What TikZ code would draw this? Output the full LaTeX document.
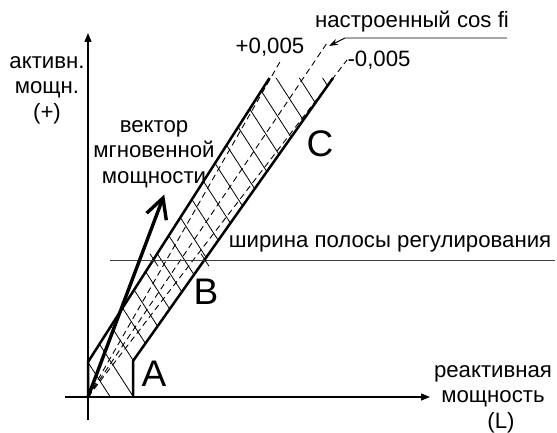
\documentclass[tikz,border=0pt]{standalone}
\usepackage{fontspec}
\setmainfont{Liberation Sans}
\usetikzlibrary{arrows.meta,calc}
\begin{document}
\begin{tikzpicture}[x=1pt,y=-1pt,
  axisline/.style={line width=1.3pt,-{Triangle[length=9pt,width=7pt]}},
  bandline/.style={line width=2.5pt,line join=round},
  cosline/.style={line width=0.9pt,dash pattern=on 6pt off 4pt},
  hatchline/.style={line width=0.8pt},
  vecline/.style={line width=3.4pt,line join=miter,line cap=butt},
  lbl/.style={font=\fontsize{22.2}{25.5}\selectfont,align=center,inner sep=0pt},
  big/.style={font=\fontsize{37}{40}\selectfont,inner sep=0pt}]
\useasboundingbox (0,0) rectangle (557,433);
% key points
\coordinate (O) at (88,397);
\coordinate (L1) at (88,362);
\coordinate (LT) at (269.5,78);
\coordinate (R0) at (133,397);
\coordinate (R1) at (133,361);
\coordinate (RT) at (333,78);
\coordinate (P) at (281,60);
\coordinate (M) at (327,43);
\coordinate (N) at (347,60);
\coordinate (V) at (163,198);
\coordinate (VB1) at (146.6,213.2);
\coordinate (VB2) at (166.3,220.2);
\coordinate (XL) at (65,397);
\coordinate (XR) at (430,397);
\coordinate (YB) at (88,420);
\coordinate (YT) at (88,33);
\coordinate (HL) at (110,260);
\coordinate (HR) at (555,260);
\coordinate (BL) at (154,260);
\coordinate (BR) at (205,260);
\coordinate (U1) at (507,38);
\coordinate (U2) at (345,38);
\coordinate (U3) at (329,46);
% hatching
\begin{scope}
  \clip (O) -- (L1) -- (LT) -- (RT) -- (R1) -- (R0) -- cycle;
  \foreach \c in {226,190,...,-450}
    \draw[hatchline] (0,\c) -- (400,620+\c);
\end{scope}
% axes
\draw[axisline] (XL) -- (XR);
\draw[axisline] (YB) -- (YT);
% cos fi lines
\draw[cosline] (O) -- (P);
\draw[cosline] (O) -- (M);
\draw[cosline] (O) -- (N);
% band boundaries
\draw[bandline] (O) -- (L1) -- (LT);
\draw[bandline] (R0) -- (R1) -- (RT);
% band width line
\draw[line width=0.9pt,black!75] (HL) -- (HR);
\draw[hatchline] ($(BL)+(-4,-6.2)$) -- ($(BL)+(4,6.2)$);
\draw[hatchline] ($(BR)+(-4,-6.2)$) -- ($(BR)+(4,6.2)$);
% vector
\draw[vecline] (O) -- ($(V)!1.5pt!(O)$);
\draw[vecline] (VB1) -- (V) -- (VB2);
% leader
\draw[line width=0.9pt,-{Stealth[length=9pt,width=6pt]}] (U1) -- (U2) -- (U3);
% labels
\node[lbl] (ya) at (47,90) {активн.\\мощн.\\(+)};
\node[lbl] (xa) at (493,399) {реактивная\\мощность\\\hspace*{16pt}(L)};
\node[lbl] (vl) at (154,154) {вектор\\мгновенной\\мощности};
\node[lbl] (pl) at (270,47) {+0,005};
\node[lbl] (nl) at (379,60) {-0,005};
\node[lbl] (ml) at (412,22) {настроенный cos fi};
\node[lbl] (wl) at (390,244) {ширина полосы регулирования};
\node[big] (A) at (154,374) {A};
\node[big] (B) at (206,292) {B};
\node[big] (C) at (320,144) {C};
\end{tikzpicture}
\end{document}
